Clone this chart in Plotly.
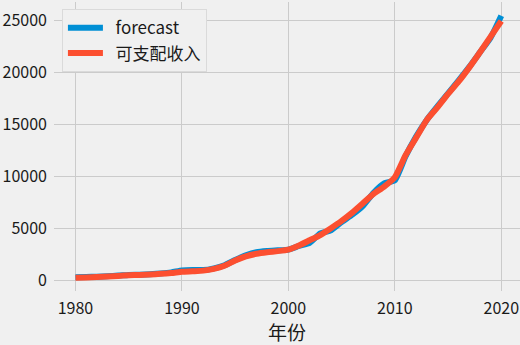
import plotly.graph_objects as go

years = list(range(1980, 2021))
income = [250, 280, 320, 370, 420, 480, 520, 560, 620, 700,
          820, 870, 930, 1100, 1400, 1900, 2300, 2550, 2700, 2800,
          2950, 3350, 3850, 4350, 5000, 5700, 6500, 7400, 8300, 9000,
          9900, 12000, 13700, 15400, 16600, 17900, 19100, 20450, 21900, 23400,
          24900]
forecast = [300, 320, 350, 400, 450, 520, 540, 580, 650, 760,
            950, 1000, 980, 1150, 1450, 1950, 2400, 2700, 2820, 2880,
            2950, 3300, 3600, 4500, 4800, 5600, 6300, 7150, 8400, 9300,
            9600, 11900, 13800, 15400, 16700, 17950, 19200, 20500, 21900, 23300,
            25400]

x_ticks = [1980, 1990, 2000, 2010, 2020]
y_ticks = [0, 5000, 10000, 15000, 20000, 25000]
y_tick_text = [str(v) for v in y_ticks]
series_names = ["forecast", "可支配收入"]

FONT = "Noto Sans CJK SC, sans-serif"
BG = "#f0f0f0"
PAD = "\u00a0\u00a0"

fig = go.Figure()
fig.add_trace(go.Scatter(x=years, y=forecast, mode="lines", name=PAD + series_names[0],
                         line=dict(color="#008fd5", width=6, shape="spline", smoothing=0.5)))
fig.add_trace(go.Scatter(x=years, y=income, mode="lines", name=PAD + series_names[1],
                         line=dict(color="#fc4f30", width=6, shape="spline", smoothing=0.5)))

fig.update_layout(
    width=520, height=345,
    margin=dict(l=54, r=0, t=2, b=54),
    paper_bgcolor=BG, plot_bgcolor=BG,
    font=dict(family=FONT, size=16, color="#1a1a1a"),
    showlegend=True,
    legend=dict(x=0.017, y=0.975, xanchor="left", yanchor="top",
                bgcolor=BG, bordercolor="#dadada", borderwidth=1,
                font=dict(size=17, family=FONT, color="#1a1a1a"),
                itemwidth=35),
    xaxis=dict(range=[1977.98, 2021.76], tickvals=x_ticks,
               showgrid=True, gridcolor="#cbcbcb", gridwidth=1.3,
               zeroline=False, showline=False, ticks="",
               ticklabelstandoff=6,
               tickfont=dict(size=16),
               title=dict(text="年份", font=dict(size=19), standoff=4)),
    yaxis=dict(range=[-1028, 26729], tickvals=y_ticks, ticktext=y_tick_text,
               showgrid=True, gridcolor="#cbcbcb", gridwidth=1.3,
               zeroline=False, showline=False, ticks="",
               ticklabelstandoff=6,
               tickfont=dict(size=16)),
)

fig.write_html("out.html")
